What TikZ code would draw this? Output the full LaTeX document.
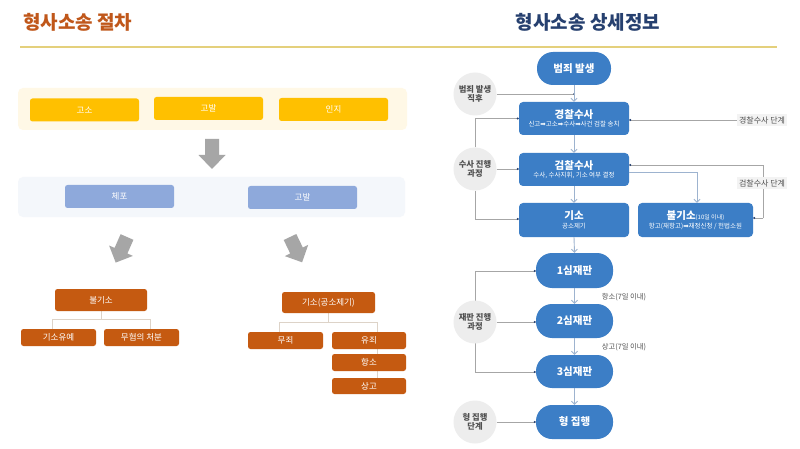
\documentclass[tikz,border=0pt]{standalone}
\usepackage{fontspec}
\setmainfont{Noto Sans CJK KR}
\newfontfamily\dv{DejaVu Sans}
\usetikzlibrary{arrows.meta}
\definecolor{ttlorange}{HTML}{C0571A}
\definecolor{ttlblue}{HTML}{26406F}
\definecolor{divline}{HTML}{E4D07C}
\definecolor{amber}{HTML}{FFC000}
\definecolor{creamband}{HTML}{FFF8E6}
\definecolor{paleband}{HTML}{F4F7FB}
\definecolor{lavblue}{HTML}{8EA9DB}
\definecolor{rust}{HTML}{C55A11}
\definecolor{treeline}{HTML}{DDD3C8}
\definecolor{flowblue}{HTML}{3C7EC6}
\definecolor{circgray}{HTML}{EDEDED}
\definecolor{linegray}{HTML}{A6A6A6}
\definecolor{arrowblue}{HTML}{9DB3CF}
\definecolor{blockgray}{HTML}{A6A6A6}
\definecolor{txtgray}{HTML}{505050}
\definecolor{lblbg}{HTML}{F3F3F3}
\tikzset{
  ybox/.style={fill=amber, rounded corners=2.5pt, minimum width=109pt, minimum height=23pt, inner sep=0pt, text=white, font=\fontsize{8.5}{9}\selectfont},
  lbox/.style={fill=lavblue, rounded corners=2.5pt, minimum width=109pt, minimum height=23pt, inner sep=0pt, text=white, font=\fontsize{8.5}{9}\selectfont},
  obox/.style={fill=rust, rounded corners=2.5pt, inner sep=0pt, text=white, font=\fontsize{8.5}{10}\selectfont},
  fbox/.style={fill=flowblue, rounded corners=4pt, minimum width=110pt, minimum height=33pt, inner sep=0pt, text=white, align=center, font=\fontsize{6.5}{8.5}\selectfont},
  stad/.style={fill=flowblue, rounded corners=16pt, minimum width=77pt, minimum height=34pt, inner sep=0pt, text=white, font=\bfseries\fontsize{10.5}{12}\selectfont},
  circ/.style={circle, fill=circgray, minimum size=43pt, inner sep=0pt, align=center, text=txtgray, font=\bfseries\fontsize{8.3}{9.5}\selectfont},
  stagelbl/.style={fill=lblbg, inner sep=2pt, text=txtgray, font=\fontsize{8}{9}\selectfont},
  note/.style={text=txtgray, inner sep=0pt, font=\fontsize{7.3}{8}\selectfont},
  conn/.style={draw=linegray, line width=0.7pt},
  dotend/.style={conn, -{Circle[length=2pt, fill=ttlblue, ttlblue]}},
  flowarr/.style={draw=arrowblue, line width=0.9pt, -{Straight Barb[length=3pt, width=6pt]}},
  tree/.style={draw=treeline, line width=0.9pt},
  blk/.style={fill=blockgray, draw=none}
}
\newcommand{\ttl}[1]{{\bfseries\fontsize{10.5}{13}\selectfont #1}}
\begin{document}
\begin{tikzpicture}[x=1pt, y=-1pt]
\useasboundingbox[fill=white] (0,0) rectangle (800,449);

% titles
\node[anchor=west, inner sep=0pt, text=ttlorange, font=\bfseries\fontsize{19}{22}\selectfont] (tl) at (23,22) {형사소송 절차};
\node[inner sep=0pt, text=ttlblue, font=\bfseries\fontsize{19}{22}\selectfont] (tr) at (588,22) {형사소송 상세정보};
\draw[divline, line width=1.3pt] (20,47) -- (777,47);

% ---------------- left panel
\fill[creamband, rounded corners=5pt] (18,88) rectangle (407,130);
\node[ybox] (gos) at (84.5,110) {고소};
\node[ybox] (gob) at (208.5,108.5) {고발};
\node[ybox] (inj) at (333.5,109.5) {인지};

\fill[blk] (205,139) -- (219,139) -- (219,155) -- (225.5,155) -- (212,169) -- (198.5,155) -- (205,155) -- cycle;

\fill[paleband, rounded corners=5pt] (18,177) rectangle (405,217);
\node[lbox] (chp) at (119.5,196.5) {체포};
\node[lbox] (gob2) at (302.5,197.5) {고발};

\fill[blk] (120.6,234.2) -- (133.4,239.8) -- (127.4,253.5) -- (132.9,255.9) -- (115.7,262.6) -- (109.1,245.5) -- (114.6,247.9) -- cycle;
\fill[blk] (296.3,234.0) -- (302.8,247.5) -- (308.2,244.9) -- (302.1,262.3) -- (284.8,256.1) -- (290.2,253.5) -- (283.7,240.0) -- cycle;

% tree connectors
\coordinate (lj) at (101,319);
\coordinate (lja) at (52,319);
\coordinate (ljb) at (150,319);
\coordinate (rj) at (328,322);
\coordinate (rja) at (279,322);
\coordinate (rjb) at (377,322);
\coordinate (rjc) at (377,378);
\draw[tree] (101,311) -- (lj);
\draw[tree] (lja) -- (ljb);
\draw[tree] (lja) -- (52,329);
\draw[tree] (ljb) -- (150,329);
\draw[tree] (328,313) -- (rj);
\draw[tree] (rja) -- (rjb);
\draw[tree] (rja) -- (279,332);
\draw[tree] (rjb) -- (rjc);

\node[obox, minimum width=92pt, minimum height=22pt] (bgs) at (101,300) {불기소};
\node[obox, minimum width=75pt, minimum height=17pt] (gsy) at (58.5,337.5) {기소유예};
\node[obox, minimum width=75pt, minimum height=17pt] (mhc) at (141.5,337.5) {무혐의 처분};
\node[obox, minimum width=93pt, minimum height=21pt] (gsj) at (328.5,302.5) {기소(공소제기)};
\node[obox, minimum width=75pt, minimum height=17pt] (mj) at (285.5,340.5) {무죄};
\node[obox, minimum width=74pt, minimum height=17pt] (yj) at (369,340.5) {유죄};
\node[obox, minimum width=74pt, minimum height=17pt] (hs) at (369,362.5) {항소};
\node[obox, minimum width=74pt, minimum height=16pt] (sg) at (369,386) {상고};

% ---------------- right panel
\node[stad, minimum width=74pt, minimum height=33pt] (bp) at (574,68.5) {범죄 발생};
\node[fbox] (gc) at (574,118.5) {\ttl{경찰수사}\\신고{\dv ➡}고소{\dv ➡}수사{\dv ➡}사건 검찰 송치};
\node[fbox] (jc) at (574,169.5) {\ttl{검찰수사}\\수사, 수사지휘, 기소 여부 결정};
\node[fbox, minimum height=34pt] (gis) at (574,220) {\ttl{기소}\\공소제기};
\node[fbox, minimum width=115pt, minimum height=34pt] (bul) at (695.5,220) {\ttl{불기소}{\fontsize{6}{8}\selectfont(10일 이내)}\\항고(재항고){\dv ➡}재정신청 / 헌법소원};
\node[stad, minimum height=35pt] (s1) at (574.5,270.5) {1심재판};
\node[stad] (s2) at (574.5,321) {2심재판};
\node[stad, minimum height=33pt] (s3) at (574.5,371.5) {3심재판};
\node[stad] (hj) at (574.5,422) {형 집행};

% circles
\coordinate (k1) at (574,94);
\coordinate (lv3a) at (475,271);
\coordinate (lv3b) at (475,372);
\draw[conn] (lv3a) -- (lv3b);
\draw[dotend] (lv3a) -- (s1.west |- lv3a);
\draw[dotend] (lv3b) -- (s3.west |- lv3b);

\node[circ] (c1) at (475,94) {범죄 발생\\직후};
\node[circ] (c2) at (475,169) {수사 진행\\과정};
\node[circ] (c3) at (475,322) {재판 진행\\과정};
\node[circ] (c4) at (475,422) {형 집행\\단계};

\draw[conn] (c1.east) -- (k1);
\fill[ttlblue] (k1) circle (1pt);
\draw[dotend] (c2.north) |- (gc.west);
\draw[dotend] (c2.east) -- (c2.east -| jc.west);
\draw[dotend] (c2.south) |- ([yshift=1pt]gis.west);
\draw[dotend] (c3.east) -- (c3.east -| s2.west);
\draw[dotend] (c4.east) -- (c4.east -| hj.west);

% flow arrows
\draw[flowarr] (bp.south) -- (gc.north);
\draw[flowarr] (gc.south) -- (jc.north);
\draw[flowarr] (jc.south) -- (gis.north);
\draw[flowarr] (gis.south) -- (s1.north);
\draw[flowarr] (s1.south) -- (s2.north);
\draw[flowarr] (s2.south) -- (s3.north);
\draw[flowarr] (s3.south) -- (hj.north);
\coordinate (jcr) at (629,172);
\coordinate (bulk) at (697,172);
\draw[flowarr] (jcr) -- (bulk) -- (bul.north -| bulk);

% right stage labels
\node[stagelbl] (lg) at (762,120) {경찰수사 단계};
\draw[dotend] (lg.west) -- (lg.west -| gc.east);
\coordinate (jq1) at (763,165);
\coordinate (jq2) at (763,218);
\draw[conn] (jq2) -- (jq1);
\draw[dotend] (jq1) -- (jq1 -| jc.east);
\draw[dotend] (jq2) -- (jq2 -| bul.east);
\node[stagelbl] (lj2) at (762,183) {검찰수사 단계};

\node[note] (n1) at (624,297) {항소(7일 이내)};
\node[note] (n2) at (624,347) {상고(7일 이내)};
\end{tikzpicture}
\end{document}
